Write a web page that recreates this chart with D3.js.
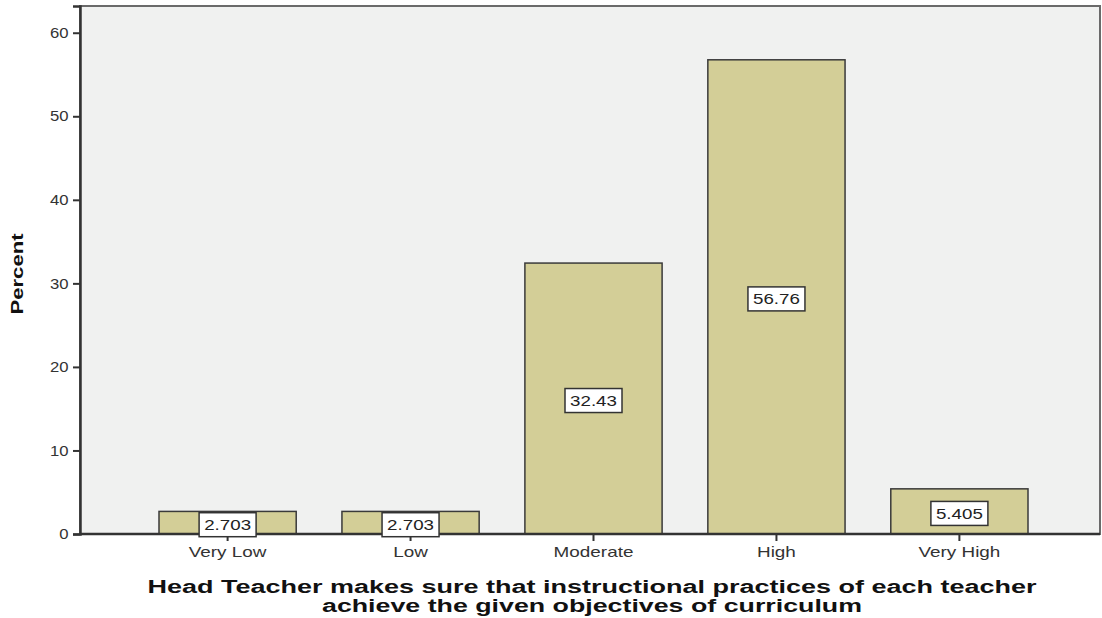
<!DOCTYPE html>
<html>
<head>
<meta charset="utf-8">
<script src="https://cdn.jsdelivr.net/npm/d3@7"></script>
<style>
  body { margin: 0; background: #fff; }
  text { font-family: "Liberation Sans", Arial, sans-serif; }
</style>
</head>
<body>
<script>
const categories = ["Very Low", "Low", "Moderate", "High", "Very High"];
const percents = [2.703, 2.703, 32.43, 56.76, 5.405];
const valueLabels = ["2.703", "2.703", "32.43", "56.76", "5.405"];
const yTicks = [0, 10, 20, 30, 40, 50, 60];
const xTitleLines = [
    "Head Teacher makes sure that instructional practices of each teacher",
    "achieve the given objectives of curriculum"
];
const yTitle = "Percent";

const width = 1102, height = 618;
const plot = {left: 80, right: 1100, top: 6, bottom: 534};

const svg = d3.select("body").append("svg")
    .attr("width", width)
    .attr("height", height);

const x = d3.scaleBand()
    .domain(categories)
    .range([159, 1028])
    .paddingInner(0.25)
    .paddingOuter(0);

const y = d3.scaleLinear()
    .domain([0, 63.2])
    .range([plot.bottom, plot.top]);

// plot background + frame
svg.append("rect")
    .attr("x", plot.left)
    .attr("y", plot.top)
    .attr("width", plot.right - plot.left)
    .attr("height", plot.bottom - plot.top)
    .attr("fill", "#f0f1f0")
    .attr("stroke", "#6a6a6a")
    .attr("stroke-width", 2);

// bars
svg.selectAll(".bar")
    .data(categories)
    .enter()
    .append("rect")
    .attr("class", "bar")
    .attr("x", d => x(d))
    .attr("y", (d, i) => y(percents[i]))
    .attr("width", x.bandwidth())
    .attr("height", (d, i) => y(0) - y(percents[i]))
    .attr("fill", "#d3ce97")
    .attr("stroke", "#3a3a3a")
    .attr("stroke-width", 1.5);

// y axis
const gy = svg.append("g")
    .attr("transform", `translate(${plot.left},0)`)
    .call(d3.axisLeft(y).tickValues(yTicks).tickSize(7).tickPadding(3).tickFormat(d3.format("d")));
gy.select(".domain").attr("stroke", "#333").attr("stroke-width", 2.5);
gy.selectAll(".tick line").attr("stroke", "#333").attr("stroke-width", 2);
gy.selectAll(".tick text")
    .attr("font-size", 14.5)
    .attr("fill", "#333")
    .attr("transform", "scale(1.15,1)");

// x axis
const gx = svg.append("g")
    .attr("transform", `translate(0,${plot.bottom})`)
    .call(d3.axisBottom(x).tickSize(7).tickPadding(6));
gx.select(".domain").attr("stroke", "#333").attr("stroke-width", 2.5)
    .attr("d", `M${plot.left},0H${plot.right}`);
gx.selectAll(".tick line").attr("stroke", "#333").attr("stroke-width", 2);
gx.selectAll(".tick text")
    .attr("font-size", 14)
    .attr("fill", "#333")
    .attr("transform", "scale(1.35,1)");

// value labels
const labels = svg.selectAll(".vlabel")
    .data(categories)
    .enter()
    .append("g")
    .attr("class", "vlabel")
    .attr("transform", (d, i) => `translate(${x(d) + x.bandwidth() / 2},${y(percents[i] / 2) + 2})`);

labels.append("rect")
    .attr("x", -28.5)
    .attr("y", -12)
    .attr("width", 57)
    .attr("height", 24)
    .attr("fill", "#fff")
    .attr("stroke", "#333")
    .attr("stroke-width", 1.5);

labels.append("text")
    .attr("text-anchor", "middle")
    .attr("dy", "0.36em")
    .attr("font-size", 15)
    .attr("fill", "#222")
    .attr("transform", "scale(1.25,1)")
    .text((d, i) => valueLabels[i]);

// y title
svg.append("text")
    .attr("transform", "translate(23,274) rotate(-90) scale(1.3,1)")
    .attr("text-anchor", "middle")
    .attr("font-size", 17)
    .attr("font-weight", "bold")
    .attr("fill", "#111")
    .text(yTitle);

// x title
const xTitle = svg.append("text")
    .attr("text-anchor", "middle")
    .attr("font-size", 17.5)
    .attr("font-weight", "bold")
    .attr("fill", "#111");
xTitle.append("tspan")
    .attr("x", 592)
    .attr("y", 593)
    .attr("textLength", 889)
    .attr("lengthAdjust", "spacingAndGlyphs")
    .text(xTitleLines[0]);
xTitle.append("tspan")
    .attr("x", 592)
    .attr("y", 612)
    .attr("textLength", 540)
    .attr("lengthAdjust", "spacingAndGlyphs")
    .text(xTitleLines[1]);
</script>
</body>
</html>
